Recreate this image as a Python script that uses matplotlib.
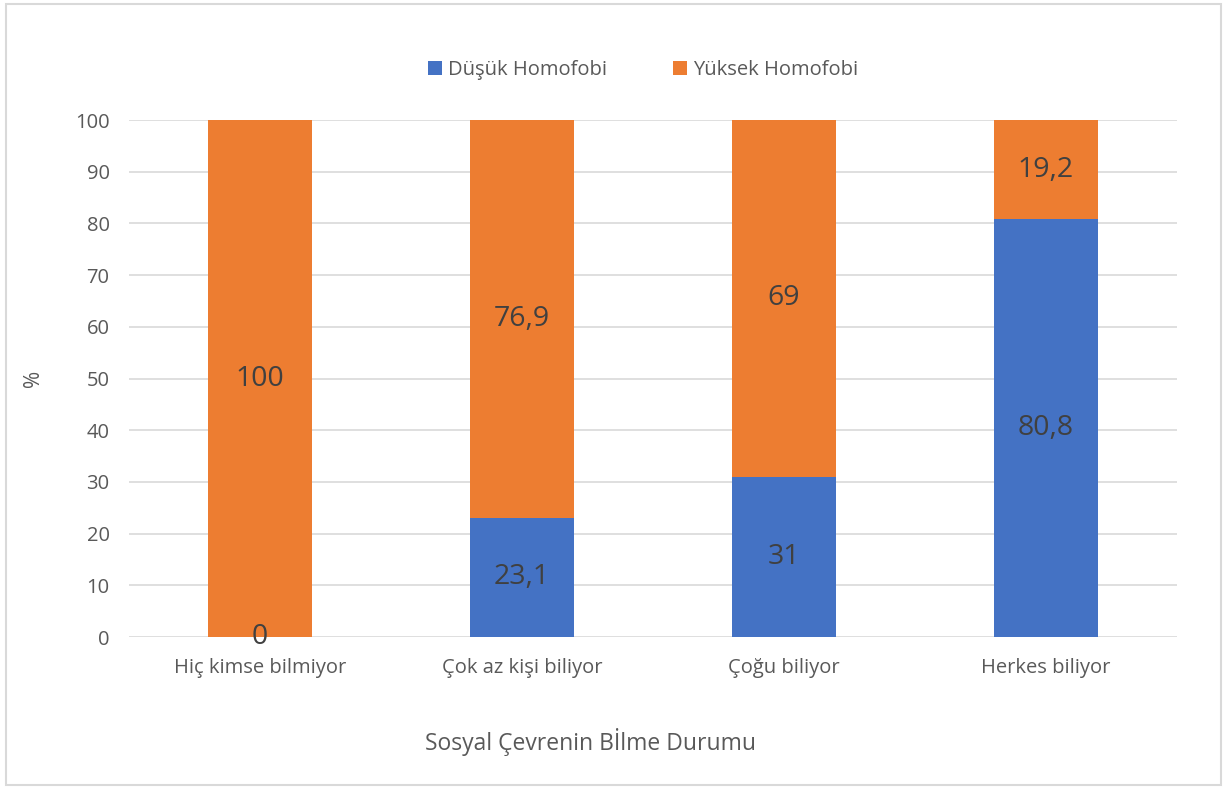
import matplotlib.pyplot as plt
from matplotlib.patches import Rectangle

categories = ['Hiç kimse bilmiyor', 'Çok az kişi biliyor', 'Çoğu biliyor', 'Herkes biliyor']
dusuk = [0, 23.1, 31, 80.8]
yuksek = [100, 76.9, 69, 19.2]
dusuk_labels = ['0', '23,1', '31', '80,8']
yuksek_labels = ['100', '76,9', '69', '19,2']

plt.rcParams['font.family'] = ['Open Sans', 'DejaVu Sans']

blue = '#4472C4'
orange = '#ED7D31'
text_dark = '#404040'
text_grey = '#595959'

fig = plt.figure(figsize=(12.32, 7.89), dpi=100)
ax = fig.add_axes([0.1047, 0.1926, 0.8506, 0.6553])

x = range(len(categories))
ax.bar(x, dusuk, width=0.4, color=blue, label='Düşük Homofobi', zorder=2)
ax.bar(x, yuksek, width=0.4, bottom=dusuk, color=orange, label='Yüksek Homofobi', zorder=2)

# values centred inside each segment
for i in x:
    ax.text(i, dusuk[i] / 2, dusuk_labels[i], ha='center', va='center',
            fontsize=20.5, color=text_dark, zorder=3)
    ax.text(i, dusuk[i] + yuksek[i] / 2, yuksek_labels[i], ha='center', va='center',
            fontsize=20.5, color=text_dark, zorder=3)

ax.set_xlim(-0.5, 3.5)
ax.set_ylim(0, 100)
ax.set_yticks(range(0, 101, 10))
ax.set_xticks(list(x))
ax.set_xticklabels(categories)
ax.tick_params(axis='both', length=0, labelsize=14.5, colors=text_grey)
ax.tick_params(axis='y', pad=14)
ax.tick_params(axis='x', pad=15)
ax.grid(axis='y', color='#D9D9D9', linewidth=1.2, zorder=0)
for s in ax.spines.values():
    s.set_visible(False)

ax.set_ylabel('%', fontsize=15, color=text_grey, labelpad=22)
fig.text(0.479, 0.06, 'Sosyal Çevrenin Bİlme Durumu', ha='center', va='center',
         fontsize=16.5, color=text_grey)

leg = fig.legend(loc='center', bbox_to_anchor=(0.522, 0.911), ncol=2, frameon=False,
                 fontsize=14.5, handlelength=0.7, handleheight=0.7, handletextpad=0.3,
                 columnspacing=3.3)
for t in leg.get_texts():
    t.set_color(text_grey)

# chart outline
fig.patches.append(Rectangle((0.005, 0.005), 0.986, 0.99, transform=fig.transFigure,
                             fill=False, edgecolor='#D9D9D9', linewidth=1.5))

plt.savefig('out.png', dpi=100)
